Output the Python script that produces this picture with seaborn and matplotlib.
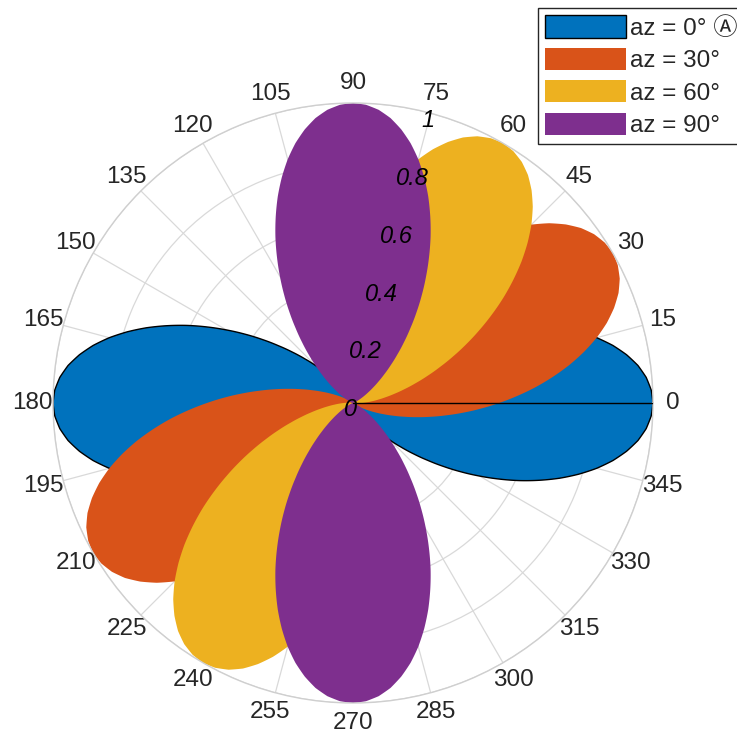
import numpy as np
import matplotlib
matplotlib.use("Agg")
import matplotlib.pyplot as plt
import seaborn as sns

# beam directions and legend text
azimuths = [0, 30, 60, 90]
labels = ["az = 0° Ⓐ", "az = 30°", "az = 60°", "az = 90°"]
colors = sns.color_palette(["#0072BD", "#D95319", "#EDB120", "#7E2F8E"])

step = 2.5
gain = [1.000, 0.995, 0.981, 0.958, 0.926, 0.887, 0.841, 0.789, 0.733, 0.673,
        0.612, 0.549, 0.487, 0.427, 0.369, 0.314, 0.264, 0.218, 0.177, 0.141,
        0.110, 0.084, 0.062, 0.045, 0.031, 0.021, 0.0135, 0.008, 0.005, 0.0025,
        0.001, 0.0005, 0.0002, 0.0, 0.0, 0.0, 0.0]

theta_ticks = list(range(0, 360, 15))
r_ticks = [0, 0.2, 0.4, 0.6, 0.8, 1]

# two-sided pattern over a full turn (front + back lobe)
n_half = len(gain) - 1          # samples from axis to broadside
n_turn = 4 * n_half             # samples over 360 degrees
angles = [k * step for k in range(n_turn + 1)]
pattern = []
for k in range(n_turn + 1):
    idx = k % (2 * n_half)
    if idx > n_half:
        idx = 2 * n_half - idx
    pattern.append(gain[idx])

sns.set_style("white")
plt.rcParams["font.family"] = ["Liberation Sans", "DejaVu Sans", "Noto Sans CJK JP"]

fig = plt.figure(figsize=(7.37, 7.41), dpi=100)
ax = fig.add_axes([53 / 737, 38 / 741, 600 / 737, 600 / 741], projection="polar")

for i, az in enumerate(azimuths):
    th = np.deg2rad(np.array(angles) + az)
    polys = ax.fill(th, pattern, color=colors[i], label=labels[i],
                    edgecolor="black" if i == 0 else "none", linewidth=1.0)
    # let the polar transform bend each edge instead of drawing straight chords
    for p in polys:
        p.get_path()._interpolation_steps = 20
ax.plot([0, 0], [0, 1], color="black", lw=1.0, zorder=3)

ax.set_axisbelow(True)
ax.set_ylim(0, 1)
ax.set_xticks(np.deg2rad(theta_ticks))
ax.set_xticklabels([str(t) for t in theta_ticks], fontsize=17.5, color="#262626")
ax.set_yticks(r_ticks)
ax.set_yticklabels([])
ax.tick_params(axis="x", pad=7.5, length=0)
ax.tick_params(axis="y", length=0)
ax.grid(True, color="#d9d9d9", lw=0.9)
ax.spines["polar"].set_color("#cfcfcf")
ax.spines["polar"].set_linewidth(1.0)

for v in r_ticks:
    ax.annotate(f"{v:g}", xy=(np.deg2rad(75), v), xytext=(-2, -5),
                textcoords="offset points", ha="center", va="center",
                fontstyle="italic", fontsize=17, color="black", zorder=6)

leg = ax.legend(loc="upper left", bbox_to_anchor=(538 / 737, 1 - 8 / 741),
                bbox_transform=fig.transFigure, borderaxespad=0, fontsize=17.5,
                handlelength=3.3, handleheight=1.03, handletextpad=0.2,
                labelspacing=0.33, borderpad=0.3, fancybox=False,
                framealpha=1, edgecolor="#262626")
leg.get_frame().set_linewidth(1.0)
for t in leg.get_texts():
    t.set_color("#262626")

fig.savefig("out.png", dpi=100)
